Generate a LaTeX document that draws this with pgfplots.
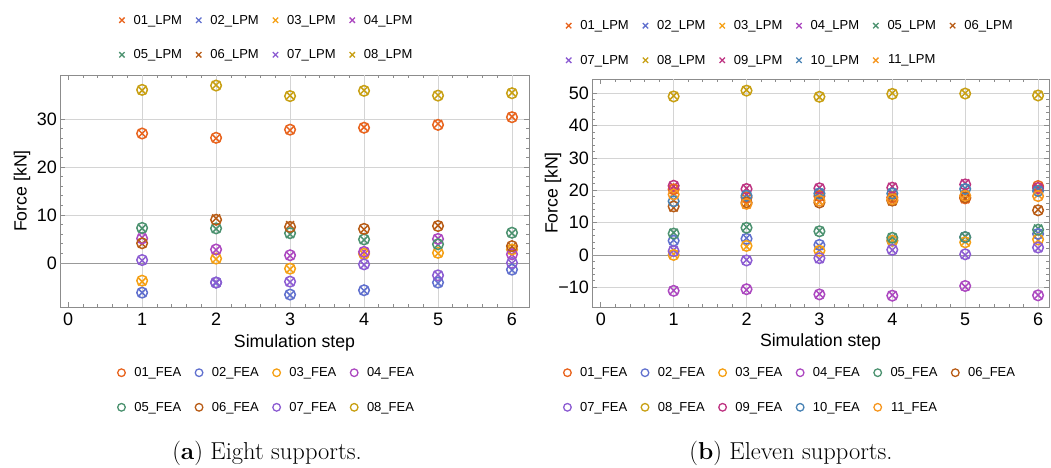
\documentclass[border=0pt]{standalone}
\usepackage{pgfplots}
\pgfplotsset{compat=1.18}
\usepackage{fontspec}
\newfontfamily\sans{Liberation Sans}

\definecolor{c01}{RGB}{232,100,30}
\definecolor{c02}{RGB}{96,112,206}
\definecolor{c03}{RGB}{245,160,20}
\definecolor{c04}{RGB}{172,72,192}
\definecolor{c05}{RGB}{76,146,112}
\definecolor{c06}{RGB}{184,92,22}
\definecolor{c07}{RGB}{140,92,210}
\definecolor{c08}{RGB}{200,160,20}
\definecolor{c09}{RGB}{190,52,130}
\definecolor{c10}{RGB}{72,130,180}
\definecolor{c11}{RGB}{246,150,30}

% Left chart (eight supports): step, then supports 01..08
\pgfplotstableread{
s  a01  a02  a03  a04  a05  a06  a07  a08
1  27.0 -6.2 -3.9 5.3  7.2  4.0  0.5  36.0
2  26.0 -4.2  0.8 2.7  7.1  9.3 -4.0  37.1
3  27.7 -6.7 -1.3 1.5  6.0  7.9 -4.0  34.9
4  28.3 -5.8  1.8 2.4  4.8  7.0 -0.4  36.0
5  29.0 -4.2  2.0 5.1  3.8  7.8 -2.5  35.0
6  30.5 -1.5  2.7 1.7  6.2  3.4 -0.1  35.5
}\lpmA
\pgfplotstableread{
s  a01  a02  a03  a04  a05  a06  a07  a08
1  27.0 -6.2 -3.7 5.1  7.3  4.1  0.6  36.1
2  26.1 -4.1  0.9 2.8  7.2  9.0 -4.1  37.0
3  27.8 -6.6 -1.2 1.6  6.2  7.5 -3.9  34.8
4  28.2 -5.7  1.9 2.3  4.9  7.1 -0.3  35.9
5  28.8 -4.1  2.1 5.0  3.9  7.7 -2.6  34.9
6  30.4 -1.4  2.8 1.8  6.3  3.5  0.0  35.4
}\feaA

% Right chart (eleven supports)
\pgfplotstableread{
s  b01  b02  b03   b04   b05  b06  b07  b08  b09  b10  b11
1  20.1 4.6  0.2  -11.0  6.9  14.6  1.5 49.2 21.2 17.0 19.0
2  17.5 5.2  2.6  -10.8  8.6  16.0 -1.5 51.0 20.6 18.6 15.5
3  18.0 2.8  1.5  -12.1  7.5  16.5 -1.3 48.8 20.8 19.3 16.5
4  17.5 4.5  4.6  -12.4  5.5  16.5  1.5 50.0 21.1 19.3 17.5
5  17.2 5.7  4.1   -9.8  5.7  17.5  0.0 50.0 22.2 20.6 18.6
6  21.1 6.7  4.6  -12.4  8.2  14.0  2.1 49.5 20.5 20.1 18.6
}\lpmB
\pgfplotstableread{
s  b01  b02  b03   b04   b05  b06  b07  b08  b09  b10  b11
1  20.3 4.4  0.0  -11.1  6.6  15.0  1.2 49.0 21.4 16.6 18.7
2  17.8 5.0  2.8  -10.6  8.4  16.2 -1.7 50.8 20.4 18.3 15.8
3  18.2 3.1  1.3  -12.2  7.3  16.2 -1.0 48.9 20.6 19.0 16.8
4  17.8 4.4  4.4  -12.6  5.3  16.8  1.6 49.8 20.8 19.0 17.2
5  17.5 5.5  3.9   -9.6  5.5  17.8  0.2 49.9 21.8 20.4 18.3
6  21.3 6.5  4.8  -12.5  7.8  13.8  2.3 49.3 20.7 19.8 18.2
}\feaB

\pgfplotsset{
  mframe/.style={
    scale only axis,
    axis line style={black!45, line width=0.8pt},
    tick style={black!45, line width=0.7pt},
    major tick length=5pt, minor tick length=3pt,
    tick align=inside,
    minor x tick num=4, minor y tick num=4,
    ymajorgrids,
    major grid style={black!17, line width=0.8pt},
    xtick={0,...,6}, xticklabels={0,1,2,3,4,5,6},
    extra x ticks={1,...,6}, extra x tick labels={},
    extra x tick style={grid=major, major tick length=0pt},
    tick label style={font=\sans\fontsize{18}{20}\selectfont},
    label style={font=\sans\fontsize{17.7}{20}\selectfont},
    xticklabel style={anchor=north, inner sep=0pt, yshift=-6pt},
    yticklabel style={anchor=east, inner sep=0pt, xshift=-3pt},
    xlabel={Simulation step}, ylabel={Force [kN]},
    xlabel style={at={(axis description cs:0.5,-0.155)}, anchor=center},
  },
  mleg/.style={
    legend style={draw=none, fill=none, font=\sans\fontsize{13}{15}\selectfont,
      row sep=20pt,
      /tikz/every odd column/.append style={column sep=7pt},
      /tikz/every even column/.append style={column sep=12pt}},
    legend image post style={mark size=3.8pt, line width=1.3pt},
  },
  lpm/.style={only marks, mark=x, mark size=5.5pt, line width=1.5pt, color=#1},
  fea/.style={only marks, mark=o, mark size=5.3pt, line width=1.5pt, color=#1},
}

\begin{document}
\begin{tikzpicture}
\useasboundingbox (0pt,0pt) rectangle (1051pt,-467pt);

% ---------- Left chart ----------
\begin{axis}[mframe, mleg, at={(60pt,-307pt)}, anchor=south west,
  width=469pt, height=232pt,
  xmin=-0.11, xmax=6.23, ymin=-9.2, ymax=39.2,
  ytick={0,10,20,30}, yticklabels={0,10,20,30},
  ylabel style={at={(axis description cs:-0.081,0.5)}, anchor=center},
  legend columns=4,
  legend style={at={(0.441,1.1616)}, anchor=center},
  legend image code/.code={\draw[mark repeat=2,mark phase=2,#1] plot coordinates {(0pt,0pt)(6pt,0pt)(12pt,0pt)};},
]
\addplot[black!40, line width=0.8pt, forget plot] coordinates {(-1,0) (7,0)};
\addplot[lpm=c01] table[x=s,y=a01]{\lpmA}; \addlegendentry{01\_LPM}
\addplot[lpm=c02] table[x=s,y=a02]{\lpmA}; \addlegendentry{02\_LPM}
\addplot[lpm=c03] table[x=s,y=a03]{\lpmA}; \addlegendentry{03\_LPM}
\addplot[lpm=c04] table[x=s,y=a04]{\lpmA}; \addlegendentry{04\_LPM}
\addplot[lpm=c05] table[x=s,y=a05]{\lpmA}; \addlegendentry{05\_LPM}
\addplot[lpm=c06] table[x=s,y=a06]{\lpmA}; \addlegendentry{06\_LPM}
\addplot[lpm=c07] table[x=s,y=a07]{\lpmA}; \addlegendentry{07\_LPM}
\addplot[lpm=c08] table[x=s,y=a08]{\lpmA}; \addlegendentry{08\_LPM}
\end{axis}
\begin{axis}[mleg, hide axis, scale only axis, at={(60pt,-307pt)}, anchor=south west,
  width=469pt, height=232pt,
  xmin=-0.11, xmax=6.23, ymin=-9.2, ymax=39.2,
  legend columns=4,
  legend style={at={(0.441,-0.3578)}, anchor=center},
  legend image code/.code={\draw[mark repeat=2,mark phase=2,#1] plot coordinates {(0pt,0pt)(6pt,0pt)(12pt,0pt)};},
]
\addplot[fea=c01] table[x=s,y=a01]{\feaA}; \addlegendentry{01\_FEA}
\addplot[fea=c02] table[x=s,y=a02]{\feaA}; \addlegendentry{02\_FEA}
\addplot[fea=c03] table[x=s,y=a03]{\feaA}; \addlegendentry{03\_FEA}
\addplot[fea=c04] table[x=s,y=a04]{\feaA}; \addlegendentry{04\_FEA}
\addplot[fea=c05] table[x=s,y=a05]{\feaA}; \addlegendentry{05\_FEA}
\addplot[fea=c06] table[x=s,y=a06]{\feaA}; \addlegendentry{06\_FEA}
\addplot[fea=c07] table[x=s,y=a07]{\feaA}; \addlegendentry{07\_FEA}
\addplot[fea=c08] table[x=s,y=a08]{\feaA}; \addlegendentry{08\_FEA}
\end{axis}

% ---------- Right chart ----------
\begin{axis}[mframe, mleg, at={(592pt,-307pt)}, anchor=south west,
  width=457pt, height=228pt,
  xmin=-0.12, xmax=6.15, ymin=-16.1, ymax=54.4,
  ytick={-10,0,10,20,30,40,50}, yticklabels={−10,0,10,20,30,40,50},
  ylabel style={at={(axis description cs:-0.085,0.5)}, anchor=center},
  legend columns=6,
  legend style={at={(0.434,1.158)}, anchor=center},
  legend image code/.code={\draw[mark repeat=2,mark phase=2,#1] plot coordinates {(0pt,0pt)(6pt,0pt)(12pt,0pt)};},
]
\addplot[black!40, line width=0.8pt, forget plot] coordinates {(-1,0) (7,0)};
\addplot[lpm=c01] table[x=s,y=b01]{\lpmB}; \addlegendentry{01\_LPM}
\addplot[lpm=c02] table[x=s,y=b02]{\lpmB}; \addlegendentry{02\_LPM}
\addplot[lpm=c03] table[x=s,y=b03]{\lpmB}; \addlegendentry{03\_LPM}
\addplot[lpm=c04] table[x=s,y=b04]{\lpmB}; \addlegendentry{04\_LPM}
\addplot[lpm=c05] table[x=s,y=b05]{\lpmB}; \addlegendentry{05\_LPM}
\addplot[lpm=c06] table[x=s,y=b06]{\lpmB}; \addlegendentry{06\_LPM}
\addplot[lpm=c07] table[x=s,y=b07]{\lpmB}; \addlegendentry{07\_LPM}
\addplot[lpm=c08] table[x=s,y=b08]{\lpmB}; \addlegendentry{08\_LPM}
\addplot[lpm=c09] table[x=s,y=b09]{\lpmB}; \addlegendentry{09\_LPM}
\addplot[lpm=c10] table[x=s,y=b10]{\lpmB}; \addlegendentry{10\_LPM}
\addplot[lpm=c11] table[x=s,y=b11]{\lpmB}; \addlegendentry{11\_LPM}
\end{axis}
\begin{axis}[mleg, hide axis, scale only axis, at={(592pt,-307pt)}, anchor=south west,
  width=457pt, height=228pt,
  xmin=-0.12, xmax=6.15, ymin=-16.1, ymax=54.4,
  legend columns=6,
  legend style={at={(0.434,-0.364)}, anchor=center},
  legend image code/.code={\draw[mark repeat=2,mark phase=2,#1] plot coordinates {(0pt,0pt)(6pt,0pt)(12pt,0pt)};},
]
\addplot[fea=c01] table[x=s,y=b01]{\feaB}; \addlegendentry{01\_FEA}
\addplot[fea=c02] table[x=s,y=b02]{\feaB}; \addlegendentry{02\_FEA}
\addplot[fea=c03] table[x=s,y=b03]{\feaB}; \addlegendentry{03\_FEA}
\addplot[fea=c04] table[x=s,y=b04]{\feaB}; \addlegendentry{04\_FEA}
\addplot[fea=c05] table[x=s,y=b05]{\feaB}; \addlegendentry{05\_FEA}
\addplot[fea=c06] table[x=s,y=b06]{\feaB}; \addlegendentry{06\_FEA}
\addplot[fea=c07] table[x=s,y=b07]{\feaB}; \addlegendentry{07\_FEA}
\addplot[fea=c08] table[x=s,y=b08]{\feaB}; \addlegendentry{08\_FEA}
\addplot[fea=c09] table[x=s,y=b09]{\feaB}; \addlegendentry{09\_FEA}
\addplot[fea=c10] table[x=s,y=b10]{\feaB}; \addlegendentry{10\_FEA}
\addplot[fea=c11] table[x=s,y=b11]{\feaB}; \addlegendentry{11\_FEA}
\end{axis}

\node[font=\fontsize{24.5}{28}\selectfont] at (267pt,-453pt) {(\textbf{a}) Eight supports.};
\node[font=\fontsize{24.5}{28}\selectfont] at (791pt,-453pt) {(\textbf{b}) Eleven supports.};
\end{tikzpicture}
\end{document}
